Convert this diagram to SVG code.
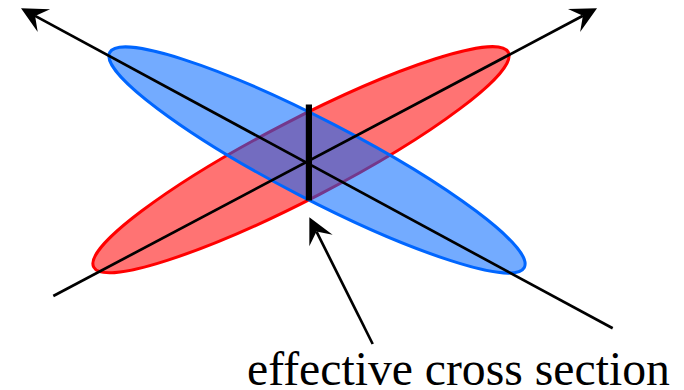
<svg xmlns="http://www.w3.org/2000/svg" width="684" height="390" viewBox="0 0 684 390">
<style>
.ax{fill:none;stroke:#000;stroke-width:2.7}
.lbl{font-family:"Liberation Serif","Times New Roman",serif;font-size:47.7px;fill:#000}
</style>
<defs>
<marker id="head" markerUnits="userSpaceOnUse" markerWidth="60" markerHeight="60" refX="0" refY="30" viewBox="-30 0 60 60" orient="auto" overflow="visible">
<path d="M16 30L-10 17L0 30L-10 43Z" fill="#000"/>
</marker>
</defs>
<rect width="684" height="390" fill="#fff"/>
<g id="ellipse-red">
<ellipse cx="301" cy="159.7" rx="233.5" ry="39.3" transform="rotate(-27.4 301 159.7)" fill="#ff0000" fill-opacity=".55" stroke="#ff0000" stroke-width="3"/>
</g>
<g id="ellipse-blue">
<ellipse cx="317" cy="160" rx="233.5" ry="39.3" transform="rotate(27.4 317 160)" fill="#0066ff" fill-opacity=".55" stroke="#0066ff" stroke-width="3"/>
</g>
<g id="connectors">
<line class="ax" x1="612.7" y1="328.3" x2="35.1" y2="15.9" marker-end="url(#head)"/>
<line class="ax" x1="53.3" y1="296" x2="582.9" y2="15.8" marker-end="url(#head)"/>
<line class="ax" x1="372.7" y1="344" x2="316.5" y2="231.6" marker-end="url(#head)"/>
</g>
<g id="cross-section-bar">
<rect x="305.8" y="104.5" width="6.2" height="96" fill="#000"/>
</g>
<g id="label">
<text class="lbl" x="247" y="385">effective cross section</text>
</g>
</svg>
